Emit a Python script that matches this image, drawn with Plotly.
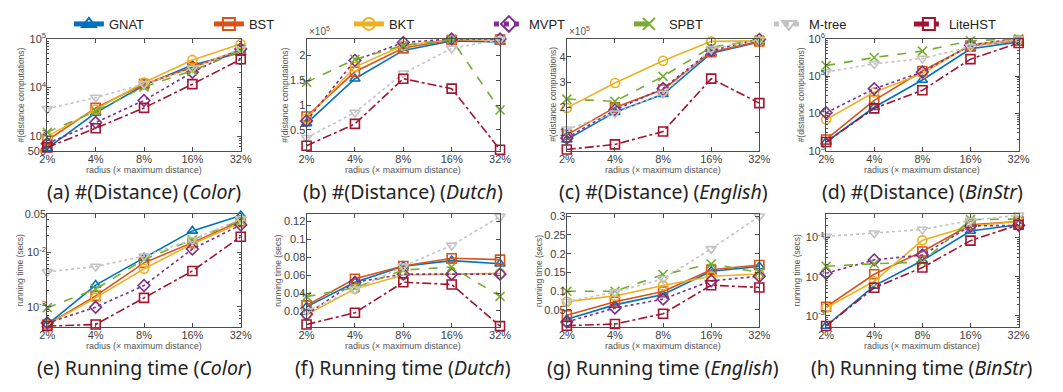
import plotly.graph_objects as go

# ---------------- data ----------------
radius_labels = ["2%", "4%", "8%", "16%", "32%"]
methods = ["GNAT", "BST", "BKT", "MVPT", "SPBT", "M-tree", "LiteHST"]

# (a) #(distance computations), Color
dist_color = {
    "GNAT":    [560, 3000, 11100, 29000, 51600],
    "BST":     [820, 3800, 11700, 25900, 60000],
    "BKT":     [985, 3520, 12600, 36900, 78200],
    "MVPT":    [700, 1900, 5400, 20600, 62200],
    "SPBT":    [1200, 3260, 10300, 22200, 55800],
    "M-tree":  [3630, 6200, 11700, 24700, 62000],
    "LiteHST": [585, 1450, 3800, 11700, 38000],
}
# (b) Dutch
dist_dutch = {
    "GNAT":    [0.63e5, 1.53e5, 2.10e5, 2.29e5, 2.27e5],
    "BST":     [0.77e5, 1.67e5, 2.15e5, 2.31e5, 2.32e5],
    "BKT":     [0.73e5, 1.77e5, 2.20e5, 2.32e5, 2.32e5],
    "MVPT":    [0.68e5, 1.90e5, 2.26e5, 2.33e5, 2.33e5],
    "SPBT":    [1.46e5, 1.92e5, 2.20e5, 2.32e5, 0.90e5],
    "M-tree":  [0.34e5, 0.85e5, 1.64e5, 2.14e5, 2.32e5],
    "LiteHST": [0.18e5, 0.62e5, 1.53e5, 1.33e5, 0.10e5],
}
# (c) English
dist_english = {
    "GNAT":    [0.72e5, 1.81e5, 2.52e5, 4.15e5, 4.60e5],
    "BST":     [0.91e5, 2.00e5, 2.71e5, 4.19e5, 4.62e5],
    "BKT":     [1.98e5, 2.97e5, 3.85e5, 4.62e5, 4.64e5],
    "MVPT":    [0.78e5, 1.90e5, 2.75e5, 4.26e5, 4.70e5],
    "SPBT":    [2.33e5, 2.24e5, 3.23e5, 4.39e5, 4.68e5],
    "M-tree":  [1.13e5, 1.77e5, 2.55e5, 4.32e5, 4.68e5],
    "LiteHST": [0.33e5, 0.53e5, 1.04e5, 3.14e5, 2.17e5],
}
# (d) BinStr
dist_binstr = {
    "GNAT":    [1710, 14600, 79000, 541000, 820000],
    "BST":     [2000, 22500, 137000, 660000, 890000],
    "BKT":     [6850, 37000, 117000, 700000, 940000],
    "MVPT":    [10400, 46000, 129000, 670000, 1050000],
    "SPBT":    [192000, 316000, 470000, 890000, 1000000],
    "M-tree":  [129000, 213000, 298000, 610000, 980000],
    "LiteHST": [1710, 13700, 41700, 286000, 773000],
}
# (e) running time (secs), Color
time_color = {
    "GNAT":    [4.7e-4, 2.5e-3, 7.9e-3, 0.0248, 0.0475],
    "BST":     [4.7e-4, 1.58e-3, 6.4e-3, 0.0151, 0.0376],
    "BKT":     [4.7e-4, 1.45e-3, 5.0e-3, 0.0143, 0.035],
    "MVPT":    [5.0e-4, 9.8e-4, 2.45e-3, 0.0115, 0.032],
    "SPBT":    [9.6e-4, 2.1e-3, 7.4e-3, 0.017, 0.039],
    "M-tree":  [4.37e-3, 5.5e-3, 8.5e-3, 0.017, 0.041],
    "LiteHST": [4.4e-4, 4.7e-4, 1.45e-3, 4.55e-3, 0.0194],
}
# (f) Dutch
time_dutch = {
    "GNAT":    [0.0246, 0.052, 0.0697, 0.076, 0.0726],
    "BST":     [0.0263, 0.0559, 0.070, 0.0786, 0.0772],
    "BKT":     [0.0157, 0.0448, 0.060, 0.0612, 0.0619],
    "MVPT":    [0.0164, 0.052, 0.061, 0.061, 0.061],
    "SPBT":    [0.036, 0.046, 0.0655, 0.069, 0.0363],
    "M-tree":  [0.020, 0.044, 0.0697, 0.093, 0.125],
    "LiteHST": [0.005, 0.0181, 0.052, 0.0495, 0.0032],
}
# (g) English
time_english = {
    "GNAT":    [0.025, 0.0635, 0.091, 0.153, 0.166],
    "BST":     [0.036, 0.072, 0.099, 0.157, 0.170],
    "BKT":     [0.072, 0.0874, 0.115, 0.140, 0.146],
    "MVPT":    [0.018, 0.055, 0.079, 0.1275, 0.140],
    "SPBT":    [0.100, 0.100, 0.1445, 0.1727, 0.150],
    "M-tree":  [0.072, 0.0976, 0.133, 0.213, 0.300],
    "LiteHST": [0.008, 0.0123, 0.040, 0.116, 0.110],
}
# (h) BinStr
time_binstr = {
    "GNAT":    [5.5e-4, 5.8e-3, 0.0258, 0.146, 0.212],
    "BST":     [1.7e-3, 0.0115, 0.0437, 0.212, 0.256],
    "BKT":     [1.6e-3, 7.6e-3, 0.0845, 0.197, 0.256],
    "MVPT":    [0.0122, 0.0268, 0.0356, 0.197, 0.204],
    "SPBT":    [0.0184, 0.0214, 0.0235, 0.286, 0.297],
    "M-tree":  [0.106, 0.128, 0.160, 0.271, 0.370],
    "LiteHST": [5.5e-4, 5.2e-3, 0.0171, 0.083, 0.212],
}

# ---------------- styles ----------------
colors = {"GNAT": "#0072BD", "BST": "#D95319", "BKT": "#EDB120", "MVPT": "#7E2F8E",
          "SPBT": "#77AC30", "M-tree": "#C3C3C3", "LiteHST": "#A2142F"}
dashes = {"GNAT": "solid", "BST": "solid", "BKT": "solid", "MVPT": "dot",
          "SPBT": "dash", "M-tree": "dot", "LiteHST": "dashdot"}
symbols = {"GNAT": "triangle-up-open", "BST": "square-open", "BKT": "circle-open",
           "MVPT": "diamond-open", "SPBT": "x-thin-open", "M-tree": "triangle-down-open",
           "LiteHST": "square-open"}

W, H = 1063, 392
cols_px = [(40, 237), (304, 501), (569, 765), (833, 1029)]
rows_px = [(32, 148), (214, 331)]
cap_y = [190, 373]
xtitle_y = [168, 350]

def sup(e):
    return "10<sup>%s</sup>" % e

def log_minor(lo, hi):
    vals = []
    for e in range(lo, hi + 1):
        for m in range(2, 10):
            vals.append(m * 10 ** e)
    return vals

panels = [
    dict(data=dist_color, row=0, col=0, type="log", range=[2.699, 5.0],
         tickvals=[500, 1e3, 1e4, 1e5], ticktext=["500", sup(3), sup(4), sup(5)],
         minor=log_minor(2, 4), ytitle="#(distance computations)", ytx=13,
         cap="(a) #(Distance) (<i>Color</i>)"),
    dict(data=dist_dutch, row=0, col=1, type="linear", range=[0.08e5, 2.333e5],
         tickvals=[0.5e5, 1e5, 1.5e5, 2e5], ticktext=["0.5", "1", "1.5", "2"],
         minor=None, ytitle="#(distance computations)", ytx=282, expo=True,
         cap="(b) #(Distance) (<i>Dutch</i>)"),
    dict(data=dist_english, row=0, col=2, type="linear", range=[0.28e5, 4.72e5],
         tickvals=[1e5, 2e5, 3e5, 4e5], ticktext=["1", "2", "3", "4"],
         minor=None, ytitle="#(distance computations)", ytx=555, expo=True,
         cap="(c) #(Distance) (<i>English</i>)"),
    dict(data=dist_binstr, row=0, col=3, type="log", range=[3, 6],
         tickvals=[1e3, 1e4, 1e5, 1e6], ticktext=[sup(3), sup(4), sup(5), sup(6)],
         minor=log_minor(3, 5), ytitle="#(distance computations)", ytx=807,
         cap="(d) #(Distance) (<i>BinStr</i>)"),
    dict(data=time_color, row=1, col=0, type="log", range=[-3.377, -1.301],
         tickvals=[1e-3, 1e-2, 0.05], ticktext=[sup("-3"), sup("-2"), "0.05"],
         minor=log_minor(-4, -2), ytitle="running time (secs)", ytx=12,
         cap="(e) Running time (<i>Color</i>)"),
    dict(data=time_dutch, row=1, col=1, type="linear", range=[0.002, 0.1275],
         tickvals=[0.02, 0.04, 0.06, 0.08, 0.1, 0.12],
         ticktext=["0.02", "0.04", "0.06", "0.08", "0.1", "0.12"],
         minor=None, ytitle="running time (secs)", ytx=275,
         cap="(f) Running time (<i>Dutch</i>)"),
    dict(data=time_english, row=1, col=2, type="linear", range=[0.004, 0.305],
         tickvals=[0.05, 0.1, 0.15, 0.2, 0.25, 0.3],
         ticktext=["0.05", "0.1", "0.15", "0.2", "0.25", "0.3"],
         minor=None, ytitle="running time (secs)", ytx=540,
         cap="(g) Running time (<i>English</i>)"),
    dict(data=time_binstr, row=1, col=3, type="log", range=[-3.29, -0.41],
         tickvals=[1e-3, 1e-2, 1e-1], ticktext=[sup("-3"), sup("-2"), sup("-1")],
         minor=log_minor(-4, -1), ytitle="running time (secs)", ytx=803,
         cap="(h) Running time (<i>BinStr</i>)"),
]

fig = go.Figure()
annotations = []
axis_color = "#4d4d4d"
tick_font = dict(family="Liberation Sans", size=11, color="#404040")

for i, p in enumerate(panels):
    n = i + 1
    xa = "x" if n == 1 else "x%d" % n
    ya = "y" if n == 1 else "y%d" % n
    x0, x1 = cols_px[p["col"]]
    y0, y1 = rows_px[p["row"]]
    for m in methods:
        fig.add_trace(go.Scatter(
            x=radius_labels, y=p["data"][m], xaxis=xa, yaxis=ya,
            mode="lines+markers", name=m, showlegend=(n == 1), legendgroup=m,
            cliponaxis=False,
            line=dict(color=colors[m], width=1.6, dash=dashes[m]),
            marker=dict(symbol=symbols[m], size=9, color=colors[m],
                        line=dict(color=colors[m], width=1.6)),
        ))
    xkey = "xaxis" if n == 1 else "xaxis%d" % n
    ykey = "yaxis" if n == 1 else "yaxis%d" % n
    xdict = dict(domain=[x0 / W, x1 / W], anchor=ya, type="category",
                 range=[0, len(radius_labels) - 1], showline=True, mirror="ticks",
                 linecolor=axis_color, linewidth=1, ticks="inside", ticklen=4,
                 tickcolor=axis_color, showgrid=False, zeroline=False,
                 tickfont=tick_font, ticklabelstandoff=-2)
    ydict = dict(domain=[1 - y1 / H, 1 - y0 / H], anchor=xa, type=p["type"],
                 range=p["range"], tickmode="array", tickvals=p["tickvals"],
                 ticktext=p["ticktext"], showline=True, mirror="ticks",
                 linecolor=axis_color, linewidth=1, ticks="inside", ticklen=4,
                 tickcolor=axis_color, showgrid=False, zeroline=False,
                 tickfont=tick_font, ticklabelstandoff=-2)
    if p["minor"]:
        ydict["minor"] = dict(tickmode="array", tickvals=p["minor"], ticks="inside",
                              ticklen=2, tickcolor=axis_color, showgrid=False)
    fig.update_layout(**{xkey: xdict, ykey: ydict})

    cx = (x0 + x1) / 2 / W
    annotations.append(dict(
        text="radius (\u00d7 maximum distance)", x=cx, y=1 - xtitle_y[p["row"]] / H,
        xref="paper", yref="paper", showarrow=False, xanchor="center", yanchor="middle",
        font=dict(family="Liberation Sans", size=9, color="#555555")))
    annotations.append(dict(
        text=p["ytitle"], x=p["ytx"] / W, y=1 - (y0 + y1) / 2 / H, textangle=-90,
        xref="paper", yref="paper", showarrow=False, xanchor="center", yanchor="middle",
        font=dict(family="Liberation Sans", size=8.5, color="#555555")))
    annotations.append(dict(
        text=p["cap"], x=cx, y=1 - cap_y[p["row"]] / H,
        xref="paper", yref="paper", showarrow=False, xanchor="center", yanchor="middle",
        font=dict(family="Noto Sans", size=19.5, color="#222222")))
    if p.get("expo"):
        annotations.append(dict(
            text="\u00d710<sup>5</sup>", x=x0 / W, y=1 - y0 / H,
            xref="paper", yref="paper", showarrow=False, xanchor="left", yanchor="bottom",
            font=dict(family="Liberation Sans", size=10, color="#555555")))

fig.update_layout(
    width=W, height=H, autosize=False,
    margin=dict(l=0, r=0, t=0, b=0),
    paper_bgcolor="white", plot_bgcolor="white",
    annotations=annotations,
    legend=dict(orientation="h", x=62 / W, y=1 - 1 / H, xanchor="left", yanchor="top",
                entrywidth=95, entrywidthmode="pixels", bgcolor="rgba(0,0,0,0)",
                font=dict(family="Liberation Sans", size=13, color="#222222"),
                itemsizing="constant", tracegroupgap=0),
)

fig.write_html("out.html", config={"displayModeBar": False},
               post_script="document.body.style.margin='0';document.body.style.padding='0';")
